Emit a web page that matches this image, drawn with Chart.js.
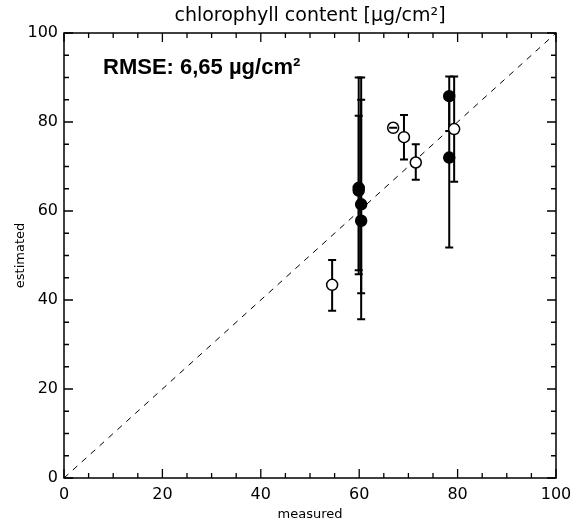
<!DOCTYPE html>
<html><head><meta charset="utf-8">
<script src="https://cdn.jsdelivr.net/npm/chart.js@4/dist/chart.umd.min.js"></script>
<style>html,body{margin:0;padding:0;background:#fff}#wrap{width:574px;height:522px}</style>
</head><body><div id="wrap"><canvas id="c" width="574" height="522"></canvas></div>
<script>
const measured  = [54.5, 59.9, 59.9, 60.4, 60.4, 66.9, 69.1, 71.5, 78.3, 78.3, 79.3];
const estimated = [43.4, 65.2, 64.6, 61.5, 57.8, 78.7, 76.6, 70.9, 85.8, 72.0, 78.4];
const errLow    = [37.6, 46.7, 45.8, 41.5, 35.7, 78.7, 71.6, 67.0, 78.0, 51.8, 66.6];
const errHigh   = [49.0, 90.0, 81.4, 90.0, 85.0, 78.7, 81.6, 75.0, 90.2, 86.0, 90.2];
const filled    = [false, true, true, true, true, false, false, false, true, true, false];
const xTicks = [0, 20, 40, 60, 80, 100];
const yTicks = [0, 20, 40, 60, 80, 100];
const titleText = 'chlorophyll content [\u03bcg/cm\u00b2]';
const rmseText = 'RMSE: 6,65 \u00b5g/cm\u00b2';

const pts = measured.map((x, i) => ({x: x, y: estimated[i]}));
const FONT = '"DejaVu Sans", "Liberation Sans", sans-serif';

function drawBar(ctx, x, y, i) {
  const px = x.getPixelForValue(measured[i]);
  const y1 = y.getPixelForValue(errLow[i]);
  const y2 = y.getPixelForValue(errHigh[i]);
  ctx.beginPath();
  ctx.moveTo(px, y1); ctx.lineTo(px, y2);
  ctx.moveTo(px - 4, y1); ctx.lineTo(px + 4, y1);
  ctx.moveTo(px - 4, y2); ctx.lineTo(px + 4, y2);
  ctx.stroke();
}

const errorBars = {
  id: 'errorBars',
  beforeDatasetsDraw(chart) {
    const {ctx, scales: {x, y}} = chart;
    ctx.save();
    ctx.strokeStyle = '#000';
    ctx.lineWidth = 2;
    measured.forEach((m, i) => { if (errHigh[i] > errLow[i]) drawBar(ctx, x, y, i); });
    ctx.restore();
  },
  afterDatasetsDraw(chart) {
    const {ctx, scales: {x, y}} = chart;
    ctx.save();
    ctx.strokeStyle = '#000';
    ctx.lineWidth = 2;
    measured.forEach((m, i) => { if (errHigh[i] <= errLow[i]) drawBar(ctx, x, y, i); });
    ctx.restore();
  }
};

const frame = {
  id: 'frame',
  afterDraw(chart) {
    const {ctx, chartArea: a, scales: {x, y}} = chart;
    ctx.save();
    ctx.strokeStyle = '#000';
    ctx.lineWidth = 1.5;
    ctx.strokeRect(a.left, a.top, a.right - a.left, a.bottom - a.top);
    ctx.lineWidth = 1.3;
    ctx.beginPath();
    for (let v = 0; v <= 100; v += 5) {
      const len = (v % 20 === 0) ? 9 : 5;
      const px = x.getPixelForValue(v);
      ctx.moveTo(px, a.bottom); ctx.lineTo(px, a.bottom - len);
      ctx.moveTo(px, a.top); ctx.lineTo(px, a.top + len);
      const py = y.getPixelForValue(v);
      ctx.moveTo(a.left, py); ctx.lineTo(a.left + len, py);
      ctx.moveTo(a.right, py); ctx.lineTo(a.right - len, py);
    }
    ctx.stroke();
    ctx.fillStyle = '#000';
    ctx.textBaseline = 'middle';
    ctx.textAlign = 'center';
    ctx.font = '19px ' + FONT;
    ctx.fillText(titleText, (a.left + a.right) / 2, 16);
    ctx.font = 'bold 22px "Liberation Sans", Arial, sans-serif';
    ctx.textAlign = 'left';
    ctx.fillText(rmseText, 103, 68);
    ctx.restore();
  }
};

new Chart(document.getElementById('c'), {
  type: 'scatter',
  data: {
    datasets: [
      {
        data: [{x: 0, y: 0}, {x: 100, y: 100}],
        showLine: true, borderColor: '#000', borderWidth: 1,
        borderDash: [6, 6], pointRadius: 0, order: 2
      },
      {
        data: pts,
        pointRadius: 5.5,
        pointBorderWidth: 1.5,
        pointBorderColor: '#000',
        pointBackgroundColor: filled.map(f => f ? '#000' : '#fff'),
        order: 1
      }
    ]
  },
  plugins: [errorBars, frame],
  options: {
    responsive: false,
    animation: false,
    layout: {padding: {left: 0, right: 18, top: 33, bottom: 0}},
    plugins: {
      legend: {display: false},
      tooltip: {enabled: false},
      title: {display: false}
    },
    scales: {
      x: {
        type: 'linear', min: 0, max: 100,
        afterBuildTicks: s => { s.ticks = xTicks.map(v => ({value: v})); },
        afterFit: s => { s.height = 44; s.paddingLeft = 0; s.paddingRight = 0; },
        grid: {display: false, drawTicks: false},
        border: {display: false},
        ticks: {color: '#000', padding: 7, maxRotation: 0,
          font: {family: FONT, size: 16}},
        title: {display: true, text: 'measured', color: '#000', padding: {top: 0, bottom: 0},
          font: {family: FONT, size: 13}}
      },
      y: {
        type: 'linear', min: 0, max: 100,
        afterBuildTicks: s => { s.ticks = yTicks.map(v => ({value: v})); },
        afterFit: s => { s.width = 64; s.paddingTop = 0; s.paddingBottom = 0; },
        grid: {display: false, drawTicks: false},
        border: {display: false},
        ticks: {color: '#000', padding: 6,
          font: {family: FONT, size: 16}},
        title: {display: true, text: 'estimated', color: '#000', padding: {top: 13, bottom: 0},
          font: {family: FONT, size: 13}}
      }
    }
  }
});
</script></body></html>
